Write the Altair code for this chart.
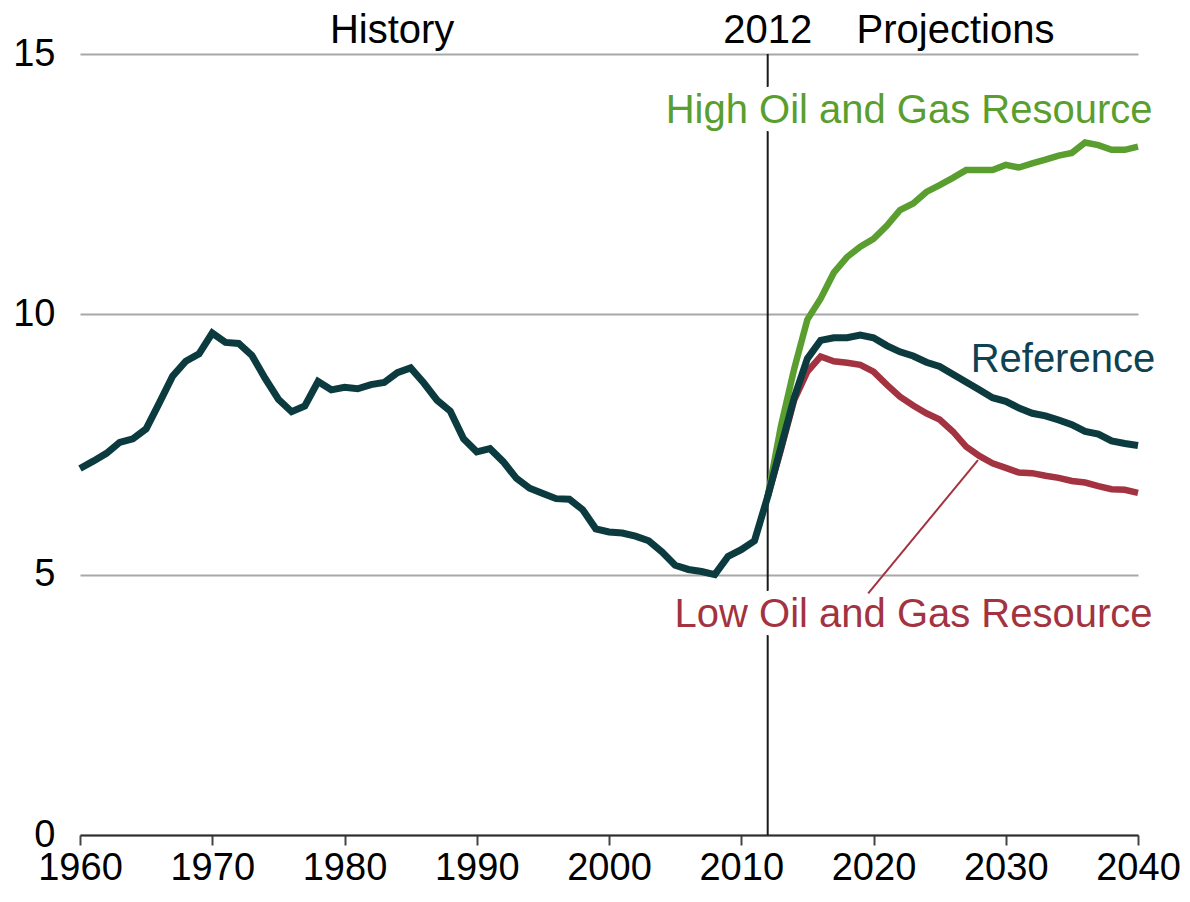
import altair as alt
import pandas as pd

FONT = "Liberation Sans"

# ---- data (million barrels per day) ----
hist_years = list(range(1960, 2013))
hist_vals = [7.04, 7.18, 7.33, 7.54, 7.61, 7.80, 8.30, 8.81, 9.10, 9.24,
             9.64, 9.46, 9.44, 9.21, 8.77, 8.37, 8.13, 8.24, 8.71, 8.55,
             8.60, 8.57, 8.65, 8.69, 8.88, 8.97, 8.68, 8.35, 8.14, 7.61,
             7.36, 7.42, 7.17, 6.85, 6.66, 6.56, 6.46, 6.45, 6.25, 5.88,
             5.82, 5.80, 5.74, 5.65, 5.44, 5.18, 5.10, 5.06, 5.00, 5.35,
             5.48, 5.65, 6.50]

proj_years = list(range(2012, 2041))
ref_vals = [6.50, 7.45, 8.40, 9.15, 9.50, 9.55, 9.55, 9.60, 9.55, 9.40,
            9.28, 9.20, 9.08, 9.00, 8.85, 8.70, 8.55, 8.40, 8.33, 8.20,
            8.10, 8.05, 7.97, 7.88, 7.75, 7.70, 7.57, 7.52, 7.48]
high_vals = [6.50, 7.85, 8.95, 9.90, 10.30, 10.80, 11.10, 11.30, 11.45, 11.70,
             12.00, 12.13, 12.35, 12.48, 12.62, 12.77, 12.77, 12.77, 12.87, 12.82,
             12.90, 12.97, 13.05, 13.10, 13.30, 13.25, 13.16, 13.16, 13.22]
low_vals = [6.50, 7.40, 8.35, 8.90, 9.19, 9.10, 9.07, 9.03, 8.90, 8.65,
            8.42, 8.25, 8.10, 7.98, 7.75, 7.46, 7.28, 7.14, 7.05, 6.96,
            6.95, 6.90, 6.86, 6.80, 6.77, 6.70, 6.64, 6.63, 6.57]

x_ticks = list(range(1960, 2041, 10))
y_ticks = [0, 5, 10, 15]

# annotations (data coordinates)
header_text = ["History", "2012", "Projections"]
header_x = [1983.6, 2012.0, 2026.2]
header_y = [15.21, 15.21, 15.21]

label_text = ["High Oil and Gas Resource", "Reference", "Low Oil and Gas Resource"]
label_x = [2041.1, 2041.3, 2041.1]
label_y = [13.67, 8.89, 3.99]
label_color = ["#5a9e2f", "#0f4150", "#a33340"]

divider_year = [2012]
leader_x = [2019.6]
leader_y = [4.64]
leader_x2 = [2027.9]
leader_y2 = [7.20]

C_REF = "#0b3b3f"
C_HIGH = "#5a9e2f"
C_LOW = "#a33340"

ref_df = pd.DataFrame({"year": hist_years + proj_years[1:],
                       "value": hist_vals + ref_vals[1:]})
high_df = pd.DataFrame({"year": proj_years, "value": high_vals})
low_df = pd.DataFrame({"year": proj_years, "value": low_vals})
head_df = pd.DataFrame({"t": header_text, "x": header_x, "y": header_y})
lab_df = pd.DataFrame({"t": label_text, "x": label_x, "y": label_y, "c": label_color})
halo_df = lab_df[lab_df["t"] != "Reference"]
div_df = pd.DataFrame({"x": divider_year, "y": [0], "y2": [15]})
lead_df = pd.DataFrame({"x": leader_x, "y": leader_y, "x2": leader_x2, "y2": leader_y2})

xscale = alt.Scale(domain=[1960, 2040], nice=False, zero=False)
yscale = alt.Scale(domain=[0, 15], nice=False, zero=True)

xaxis = alt.Axis(values=x_ticks, format="d", title=None, grid=False,
                 labelFont=FONT, labelFontSize=38, labelColor="#000000",
                 labelPadding=4, labelFlush=False, labelOverlap=False, labelBound=False,
                 domainColor="#2e2e2e", domainWidth=2,
                 tickColor="#444444", tickWidth=2, tickSize=10)
yaxis = alt.Axis(values=y_ticks, title=None, grid=True, gridColor="#a8a8a8",
                 gridWidth=2, domain=False, ticks=False,
                 labelFont=FONT, labelFontSize=38, labelColor="#000000",
                 labelPadding=25)


def X(field):
    return alt.X(f"{field}:Q", scale=xscale, axis=xaxis)


def Y(field):
    return alt.Y(f"{field}:Q", scale=yscale, axis=yaxis)


divider = alt.Chart(div_df).mark_rule(color="#1a1a1a", strokeWidth=2).encode(
    x=X("x"), y=Y("y"), y2="y2")

leader = alt.Chart(lead_df).mark_rule(color=C_LOW, strokeWidth=2).encode(
    x=X("x"), y=Y("y"), x2="x2", y2="y2")

high_line = alt.Chart(high_df).mark_line(color=C_HIGH, strokeWidth=6.5).encode(
    x=X("year"), y=Y("value"))
low_line = alt.Chart(low_df).mark_line(color=C_LOW, strokeWidth=6.5).encode(
    x=X("year"), y=Y("value"))
ref_line = alt.Chart(ref_df).mark_line(color=C_REF, strokeWidth=7).encode(
    x=X("year"), y=Y("value"))

halo = alt.Chart(halo_df).mark_text(
    font=FONT, fontSize=40, align="right", baseline="alphabetic",
    stroke="white", strokeWidth=18, strokeJoin="round", fill="white").encode(
    x=X("x"), y=Y("y"), text="t:N")

labels = alt.Chart(lab_df).mark_text(
    font=FONT, fontSize=40, align="right", baseline="alphabetic").encode(
    x=X("x"), y=Y("y"), text="t:N",
    color=alt.Color("c:N", scale=None))

headers = alt.Chart(head_df).mark_text(
    font=FONT, fontSize=40, align="center", baseline="alphabetic",
    color="#000000").encode(
    x=X("x"), y=Y("y"), text="t:N")

chart = alt.layer(
    divider, leader, high_line, low_line, ref_line, halo, labels, headers
).properties(
    width=1058, height=781,
    autosize=alt.AutoSizeParams(type="none"),
    padding={"left": 72, "top": 46, "right": 44, "bottom": 60},
    background="white",
).configure_view(stroke=None)

chart.save("out.html", embed_options={"renderer": "svg", "actions": False})
